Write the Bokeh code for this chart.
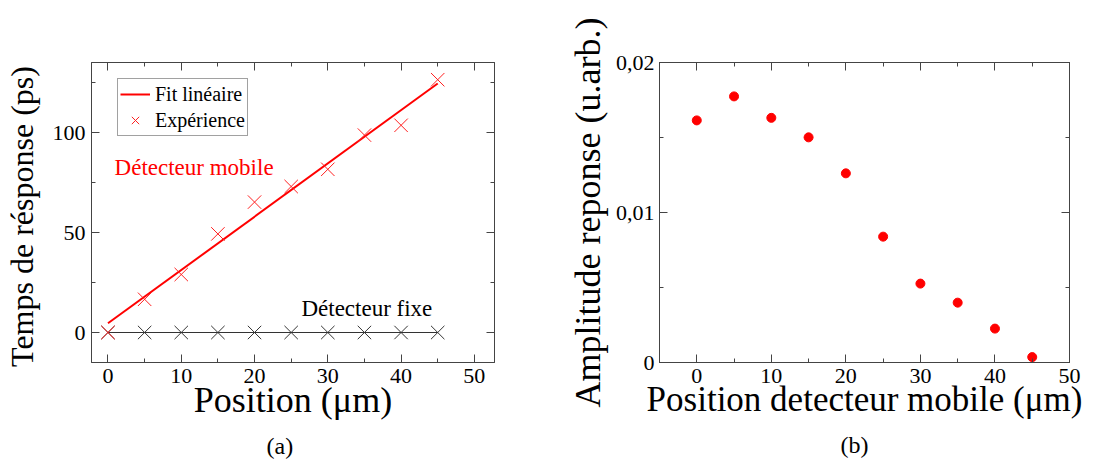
from bokeh.plotting import figure
from bokeh.layouts import row
from bokeh.models import (Range1d, LinearAxis, SingleIntervalTicker, Label, Title,
                          CustomJSTickFormatter)
from bokeh.embed import file_html
from bokeh.resources import INLINE

# ---------------- data ----------------
positions = [0, 5, 10, 15, 20, 25, 30, 35, 40, 45]
temps_mobile = [0.0, 16.6, 29.0, 49.3, 65.2, 73.0, 81.6, 98.7, 103.6, 126.4]
temps_fixe = [0, 0, 0, 0, 0, 0, 0, 0, 0, 0]
fit_x = [0, 45]
fit_y = [4.6, 124.5]
amplitude = [0.01614, 0.01774, 0.01631, 0.01501, 0.01261,
             0.00839, 0.00526, 0.00399, 0.00226, 0.00036]

FONT = "Liberation Serif"
FRAME = "#444444"
W1, W2, H = 560, 534, 466


def add_axes(p, xint, yint, yformatter=None, xlabel=None, ylabel=None,
             xlabel_size="36px", ylabel_size="36px", ystandoff=7, ylabstand=5):
    for loc in ["below", "above", "left", "right"]:
        horiz = loc in ("below", "above")
        tick = SingleIntervalTicker(interval=xint if horiz else yint, num_minor_ticks=2)
        ax = LinearAxis(ticker=tick)
        ax.axis_line_color = FRAME
        ax.major_tick_line_color = FRAME
        ax.minor_tick_line_color = FRAME
        ax.major_tick_in = 8
        ax.major_tick_out = 0
        ax.minor_tick_in = 4
        ax.minor_tick_out = 0
        ax.major_label_text_font = FONT
        ax.major_label_text_color = "black"
        ax.axis_label_text_font = FONT
        ax.axis_label_text_font_style = "normal"
        ax.axis_label_text_color = "black"
        if loc in ("above", "right"):
            ax.major_label_text_color = None
            ax.major_label_text_font_size = "1px"
            ax.major_label_standoff = 0
        else:
            ax.major_label_text_font_size = "22px"
            if loc == "below":
                ax.major_label_standoff = 6
                ax.axis_label = xlabel
                ax.axis_label_text_font_size = xlabel_size
                ax.axis_label_standoff = -6
            else:
                ax.major_label_standoff = ystandoff
                ax.axis_label = ylabel
                ax.axis_label_text_font_size = ylabel_size
                ax.axis_label_standoff = ylabstand
                if yformatter is not None:
                    ax.formatter = yformatter
        p.add_layout(ax, loc)


def add_caption(p, text, offset):
    t = Title(text=text, align="left", offset=offset, standoff=16,
              text_font=FONT, text_font_size="24px", text_font_style="normal",
              text_color="black")
    p.add_layout(t, "below")


# ---------------- figure (a) ----------------
p1 = figure(width=W1, height=H, x_range=Range1d(-2.25, 52.75),
            y_range=Range1d(-15, 135), x_axis_type=None, y_axis_type=None,
            output_backend="svg", toolbar_location=None,
            min_border_left=89, min_border_right=66, min_border_top=62,
            min_border_bottom=103)
p1.outline_line_color = FRAME
p1.background_fill_color = "white"
p1.border_fill_color = "white"
add_axes(p1, 10, 50, xlabel="Position (μm)", ylabel="Temps de résponse  (ps)",
         xlabel_size="36px", ylabel_size="32px", ystandoff=6, ylabstand=10)
add_caption(p1, "(a)", 175)

p1.line(positions, temps_fixe, line_color="#333333", line_width=1)
p1.scatter(positions, temps_fixe, marker="x", size=19, line_color="#333333",
           line_width=1)
p1.line(fit_x, fit_y, line_color="red", line_width=2, legend_label="Fit linéaire")
p1.scatter(positions, temps_mobile, marker="x", size=19, line_color="#ff2020",
           line_width=1, legend_label="Expérience")

lg = p1.legend[0]
lg.location = (26, 226)
lg.label_text_font = FONT
lg.label_text_font_size = "20px"
lg.label_text_color = "black"
lg.border_line_color = FRAME
lg.border_line_width = 1
lg.padding = 2
lg.spacing = 0
lg.margin = 0
lg.glyph_width = 30
lg.glyph_height = 26
lg.label_height = 22
lg.label_standoff = 5
lg.background_fill_color = "white"
lg.background_fill_alpha = 1.0

p1.add_layout(Label(x=0.9, y=82.3, text="Détecteur mobile", text_color="red",
                    text_font=FONT, text_font_size="23px",
                    text_baseline="alphabetic"))
p1.add_layout(Label(x=26.4, y=12.1, text="Détecteur fixe", text_color="black",
                    text_font=FONT, text_font_size="23px",
                    text_baseline="alphabetic"))

# ---------------- figure (b) ----------------
p2 = figure(width=W2, height=H, x_range=Range1d(-5, 50),
            y_range=Range1d(0, 0.02), x_axis_type=None, y_axis_type=None,
            output_backend="svg", toolbar_location=None,
            min_border_left=99, min_border_right=25, min_border_top=62,
            min_border_bottom=103)
p2.outline_line_color = FRAME
p2.background_fill_color = "white"
p2.border_fill_color = "white"
yfmt = CustomJSTickFormatter(
    code="return Math.abs(tick) < 1e-9 ? '0' : tick.toFixed(2).replace('.', ',');")
add_axes(p2, 10, 0.01, yformatter=yfmt,
         xlabel="Position detecteur mobile (μm)",
         ylabel="Amplitude reponse (u.arb.)",
         xlabel_size="35px", ylabel_size="36px", ystandoff=5, ylabstand=5)
add_caption(p2, "(b)", 181)

p2.scatter(positions, amplitude, marker="circle", size=9, fill_color="red",
           line_color="red")

layout = row(p1, p2)
open("out.html", "w").write(file_html(layout, INLINE))
